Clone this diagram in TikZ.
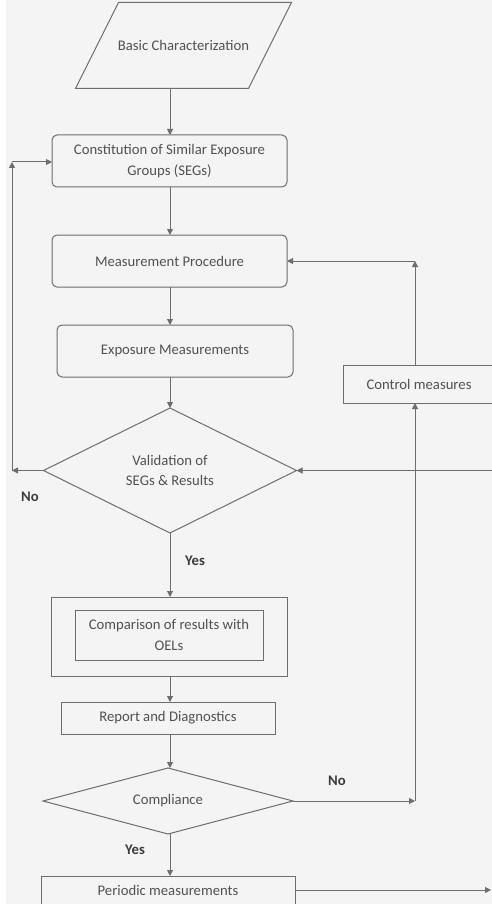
\documentclass[tikz,border=0pt]{standalone}
\usepackage{fontspec}
\setmainfont{Carlito}
\usetikzlibrary{shapes.geometric,arrows.meta,calc}
\definecolor{bg}{HTML}{F4F4F4}
\definecolor{ink}{HTML}{6E6E6E}
\definecolor{txt}{HTML}{525252}
\definecolor{lbl}{HTML}{3C3C3C}

\begin{document}
\begin{tikzpicture}[x=1pt,y=-1pt,
  font=\fontsize{14.7}{20.5}\selectfont,
  every node/.style={outer sep=0pt, text=txt},
  box/.style={draw=ink, line width=1pt, inner sep=2pt, align=center},
  rbox/.style={box, rounded corners=5pt},
  decide/.style={draw=ink, line width=1pt, diamond, inner sep=0pt, align=center},
  flow/.style={draw=ink, line width=1pt, -{Triangle[length=6pt,width=6pt]}},
  answer/.style={font=\fontsize{14.7}{18}\selectfont\bfseries, text=lbl}
]
% page and background
\useasboundingbox (0,0) rectangle (492,904);
\clip (0,0) rectangle (492,904);
\fill[white] (0,0) rectangle (492,904);
\fill[bg] (6,0) rectangle (492,904);

% guide lines for the connectors
\coordinate (spine) at (170,0);
\coordinate (rail) at (415,0);

% input: parallelogram drawn around its text node
\node[minimum width=173, minimum height=86, inner sep=0pt] (basic) at (183.5,45.5) {Basic Characterization};
\draw[ink, line width=1pt]
  ($(basic.south west)+(-21.5,0)$) -- ($(basic.south east)+(-21.5,0)$)
  -- ($(basic.north east)+(21.5,0)$) -- ($(basic.north west)+(21.5,0)$) -- cycle;

% main column
\node[rbox, minimum width=235, minimum height=52] (const) at (169.5,161)
  {Constitution of Similar Exposure\\Groups (SEGs)};
\node[rbox, minimum width=235, minimum height=52] (meas) at (169.5,261) {Measurement Procedure};
\node[rbox, minimum width=236, minimum height=52] (expo) at (175,351) {Exposure Measurements};
\node[decide, aspect=2, minimum width=253, minimum height=125] (valid) at (170,470.5)
  {Validation of\\SEGs \& Results};
\node[box, minimum width=236, minimum height=79] (compout) at (169,636.5) {};
\node[box, minimum width=188, minimum height=50] (compin) at (169,635)
  {Comparison of results with\\OELs};
\node[box, minimum width=214, minimum height=32] (report) at (168,718) {Report and Diagnostics};
\node[decide, aspect=4, minimum width=250, minimum height=66] (compl) at (168,801) {Compliance};
\node[box, minimum width=254, minimum height=30, anchor=north] (periodic) at (168,876) {};
\node (periodictxt) at (168,890) {Periodic measurements};

% control branch
\node[box, minimum width=152, minimum height=38] (ctrl) at (419,384) {Control measures};

% corner points of the loops
\coordinate (lb) at (12,470.5);
\coordinate (lt) at (12,162);
\coordinate (ct) at (415,261);
\coordinate (cr) at (415,801);
\coordinate (re) at (492,470.5);
\coordinate (pr) at (491,890);

% downward flow
\draw[flow] (basic.south -| spine) -- (const.north -| spine);
\draw[flow] (const.south -| spine) -- (meas.north -| spine);
\draw[flow] (meas.south -| spine) -- (expo.north -| spine);
\draw[flow] (expo.south -| spine) -- (valid.north);
\draw[flow] (valid.south) -- (compout.north -| spine);
\draw[flow] (compout.south -| spine) -- (report.north -| spine);
\draw[flow] (report.south -| spine) -- (compl.north -| spine);
\draw[flow] (compl.south -| spine) -- (periodic.north -| spine);

% validation fails: back to the groups
\draw[flow] (valid.west) -- (lb);
\draw[flow] (lb) -- (lt);
\draw[flow] (lt) -- (const.west |- lt);

% non-compliance: control measures, then new procedure
\draw[flow] (compl.east) -- (cr);
\draw[flow] (cr) -- (ctrl.south -| rail);
\draw[flow] (ctrl.north -| rail) -- (ct);
\draw[flow] (ct) -- (meas.east |- ct);

% return into validation and periodic follow-up
\draw[flow] (re) -- (valid.east);
\draw[flow] (periodic.east |- pr) -- (pr);

% branch labels
\node[answer] (no1) at (30,497) {No};
\node[answer] (yes1) at (195,561) {Yes};
\node[answer] (no2) at (337,781) {No};
\node[answer] (yes2) at (135,850) {Yes};
\end{tikzpicture}
\end{document}
